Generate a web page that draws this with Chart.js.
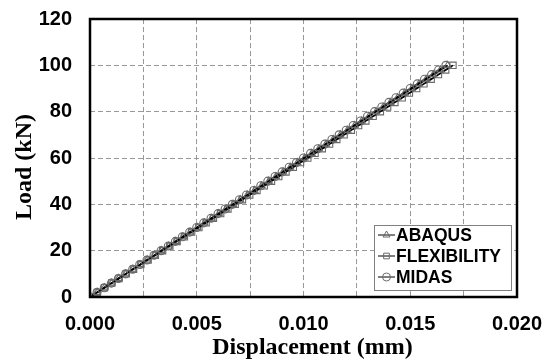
<!DOCTYPE html>
<html><head><meta charset="utf-8">
<script src="https://cdn.jsdelivr.net/npm/chart.js@4/dist/chart.umd.min.js"></script>
<style>html,body{margin:0;padding:0;background:#fff}#wrap{width:550px;height:362px}</style>
</head><body><div id="wrap"><canvas id="c" width="550" height="362"></canvas></div>
<script>
const loads = [0,2,4,6,8,10,12,14,16,18,20,22,24,26,28,30,32,34,36,38,40,42,44,46,48,50,52,54,56,58,60,62,64,66,68,70,72,74,76,78,80,82,84,86,88,90,92,94,96,98,100];
const abaqus = [0,0.000335,0.00067,0.001005,0.00134,0.001675,0.00201,0.002345,0.00268,0.003015,0.00335,0.003685,0.00402,0.004355,0.00469,0.005025,0.00536,0.005695,0.00603,0.006365,0.0067,0.007035,0.00737,0.007705,0.00804,0.008375,0.00871,0.009045,0.00938,0.009715,0.01005,0.010385,0.01072,0.011055,0.01139,0.011725,0.01206,0.012395,0.01273,0.013065,0.0134,0.013735,0.01407,0.014405,0.01474,0.015075,0.01541,0.015745,0.01608,0.016415,0.01675];
const flexibility = [0,0.00034,0.00068,0.00102,0.00136,0.0017,0.00204,0.00238,0.00272,0.00306,0.0034,0.00374,0.00408,0.00442,0.00476,0.0051,0.00544,0.00578,0.00612,0.00646,0.0068,0.00714,0.00748,0.00782,0.00816,0.0085,0.00884,0.00918,0.00952,0.00986,0.0102,0.01054,0.01088,0.01122,0.01156,0.0119,0.01224,0.01258,0.01292,0.01326,0.0136,0.01394,0.01428,0.01462,0.01496,0.0153,0.01564,0.01598,0.01632,0.01666,0.017];
const midas = [0,0.00033,0.00067,0.001,0.00133,0.00167,0.002,0.00233,0.00267,0.003,0.00333,0.00367,0.004,0.00433,0.00467,0.005,0.00533,0.00567,0.006,0.00633,0.00667,0.007,0.00733,0.00767,0.008,0.00833,0.00867,0.009,0.00933,0.00967,0.01,0.01033,0.01067,0.011,0.01133,0.01167,0.012,0.01233,0.01267,0.013,0.01333,0.01367,0.014,0.01433,0.01467,0.015,0.01533,0.01567,0.016,0.01633,0.01667];
const seriesNames = ['ABAQUS','FLEXIBILITY','MIDAS'];
const markerStyles = ['triangle','rect','circle'];
const xTitle = 'Displacement (mm)';
const yTitle = 'Load (kN)';

function pts(xs){ return xs.map((x,i)=>({x:x,y:loads[i]})); }
const MARK = '#6a6a6a';
const datasets = [abaqus, flexibility, midas].map((arr,i)=>({
  label: seriesNames[i],
  data: pts(arr),
  borderColor: '#000',
  borderWidth: 1.6,
  pointStyle: markerStyles[i],
  pointRadius: markerStyles[i]==='rect' ? 4.5 : 4,
  pointBorderColor: MARK,
  pointBackgroundColor: 'rgba(255,255,255,0)',
  pointBorderWidth: 1.1,
  tension: 0,
  fill: false
}));

const framePlugin = {
  id: 'frame',
  afterDatasetsDraw(chart){
    const {ctx, chartArea:a} = chart;
    ctx.save();
    ctx.strokeStyle = '#000';
    ctx.lineWidth = 2.5;
    ctx.strokeRect(a.left, a.top, a.right-a.left, a.bottom-a.top);
    // legend
    const lx = 374, ly = 225, lw = 137, lh = 65;
    ctx.fillStyle = '#fff';
    ctx.fillRect(lx, ly, lw, lh);
    ctx.strokeStyle = '#808080';
    ctx.lineWidth = 1;
    ctx.strokeRect(lx+0.5, ly+0.5, lw, lh);
    ctx.font = 'bold 17.5px "Liberation Sans", Arial, sans-serif';
    ctx.textBaseline = 'middle';
    chart.data.datasets.forEach((ds,i)=>{
      const cy = 235 + i*21;
      ctx.strokeStyle = '#000';
      ctx.lineWidth = 1;
      ctx.beginPath(); ctx.moveTo(378, cy); ctx.lineTo(395, cy); ctx.stroke();
      ctx.strokeStyle = MARK;
      ctx.fillStyle = 'rgba(255,255,255,0)';
      ctx.lineWidth = 1;
      Chart.helpers.drawPoint(ctx, {pointStyle: ds.pointStyle, radius: 4, borderWidth:1, rotation:0}, 386.5, cy);
      ctx.fillStyle = '#000';
      ctx.fillText(ds.label, 396, cy+1);
    });
    ctx.restore();
  }
};

new Chart(document.getElementById('c'), {
  type: 'line',
  data: { datasets },
  plugins: [framePlugin],
  options: {
    responsive: false,
    animation: false,
    layout: { padding: { left: 0, right: 33, top: 19, bottom: 0 } },
    plugins: { legend: { display: false }, tooltip: { enabled: false } },
    scales: {
      x: {
        type: 'linear', min: 0, max: 0.02,
        afterFit(s){ s.height = 65; s.paddingLeft = 0; s.paddingRight = 0; },
        ticks: { stepSize: 0.0025, autoSkip: false, maxRotation: 0, padding: 15, color: '#000',
          font: { family: '"Liberation Sans", Arial, sans-serif', size: 20, weight: 'bold' },
          callback: (v)=> (Math.round(v*10000) % 50 === 0) ? v.toFixed(3) : '' },
        grid: { color: '#999', lineWidth: 1, drawTicks: false, tickLength: 0 },
        border: { display: false, dash: [5,3] },
        title: { display: true, text: '\u00a0\u00a0\u00a0' + xTitle, color: '#000', padding: { top: 0, bottom: 0 },
          font: { family: '"Liberation Serif", "Times New Roman", serif', size: 24, weight: 'bold' } }
      },
      y: {
        type: 'linear', min: 0, max: 120,
        afterFit(s){ s.width = 90; s.paddingTop = 0; s.paddingBottom = 0; },
        ticks: { stepSize: 20, padding: 18, color: '#000',
          font: { family: '"Liberation Sans", Arial, sans-serif', size: 20, weight: 'bold' } },
        grid: { color: '#999', lineWidth: 1, drawTicks: false, tickLength: 0 },
        border: { display: false, dash: [5,3] },
        title: { display: true, text: yTitle + '\u00a0\u00a0\u00a0', color: '#000', padding: { top: 10, bottom: 2 },
          font: { family: '"Liberation Serif", "Times New Roman", serif', size: 24, weight: 'bold' } }
      }
    }
  }
});
</script></body></html>
